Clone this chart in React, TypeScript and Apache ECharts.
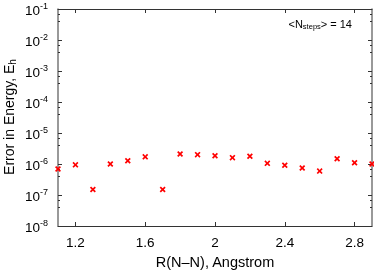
import React, { useEffect, useRef } from "react";
import * as echarts from "echarts";

const rValues = [1.1, 1.2, 1.3, 1.4, 1.5, 1.6, 1.7, 1.8, 1.9, 2.0, 2.1, 2.2, 2.3, 2.4, 2.5, 2.6, 2.7, 2.8, 2.9];
const errors = [6.9e-7, 9.4e-7, 1.5e-7, 1.0e-6, 1.28e-6, 1.7e-6, 1.5e-7, 2.1e-6, 2.0e-6, 1.85e-6, 1.6e-6, 1.77e-6, 1.05e-6, 0.91e-6, 0.74e-6, 0.59e-6, 1.48e-6, 1.1e-6, 1.0e-6];
const xTicks = [1.2, 1.6, 2.0, 2.4, 2.8];
const threshold = 1e-3;
const yMin = 1e-8;
const yMax = 1e-1;
const xMin = 1.1;
const xMax = 2.9;
const nSteps = 14;

const FONT = "Liberation Sans, Arial, sans-serif";
const crossPath = "path://M0,2 L2,0 L5,3 L8,0 L10,2 L7,5 L10,8 L8,10 L5,7 L2,10 L0,8 L3,5 Z";

export default function App() {
  const ref = useRef<HTMLDivElement>(null);
  useEffect(() => {
    if (!ref.current) return;
    const chart = echarts.init(ref.current, undefined, { renderer: "svg" });
    const tickStyle = { show: true, inside: true, length: 4, lineStyle: { color: "#333", width: 1 } };
    const minorStyle = { show: true, splitNumber: 3, length: 2, lineStyle: { color: "#333", width: 1 } };
    chart.setOption({
      animation: false,
      grid: { left: 58, right: 2, top: 9, bottom: 45, containLabel: false, outerBoundsMode: "none" },
      xAxis: [
        {
          type: "value",
          min: xMin,
          max: xMax,
          position: "bottom",
          axisLine: { show: true, lineStyle: { color: "#333", width: 1 } },
          axisTick: { ...tickStyle, customValues: xTicks },
          axisLabel: {
            customValues: xTicks,
            formatter: (v: number) => String(Math.round(v * 10) / 10),
            color: "#000",
            fontFamily: FONT,
            fontSize: 13.5,
            margin: 9,
          },
          splitLine: { show: false },
          name: "R(N\u2013N), Angstrom",
          nameLocation: "middle",
          nameGap: 28,
          nameTextStyle: { color: "#000", fontFamily: FONT, fontSize: 14.5 },
        },
        {
          type: "value",
          min: xMin,
          max: xMax,
          position: "top",
          axisLine: { show: true, lineStyle: { color: "#333", width: 1 } },
          axisTick: { ...tickStyle, customValues: xTicks },
          axisLabel: { show: false },
          splitLine: { show: false },
        },
      ],
      yAxis: [
        {
          type: "log",
          logBase: 10,
          min: yMin,
          max: yMax,
          interval: 1,
          position: "left",
          axisLine: { show: true, lineStyle: { color: "#777", width: 1.5 } },
          axisTick: tickStyle,
          minorTick: minorStyle,
          splitLine: { show: false },
          minorSplitLine: { show: false },
          axisLabel: {
            margin: 10,
            formatter: (v: number) => `{b|10}{s|${Math.round(Math.log10(v))}}`,
            rich: {
              b: { fontFamily: FONT, fontSize: 13.5, color: "#000", lineHeight: 16, verticalAlign: "bottom" },
              s: { fontFamily: FONT, fontSize: 9, color: "#000", lineHeight: 16, verticalAlign: "top", padding: [0, 0, 9, 0] },
            },
          },
        },
        {
          type: "log",
          logBase: 10,
          min: yMin,
          max: yMax,
          interval: 1,
          position: "right",
          axisLine: { show: true, lineStyle: { color: "#777", width: 1.5 } },
          axisTick: tickStyle,
          minorTick: minorStyle,
          splitLine: { show: false },
          minorSplitLine: { show: false },
          axisLabel: { show: false },
        },
      ],
      graphic: [
        {
          type: "text",
          x: 9,
          y: 117,
          rotation: Math.PI / 2,
          style: {
            text: "Error in Energy, E{sub|h}",
            fontFamily: FONT,
            fontSize: 14,
            fill: "#000",
            align: "center",
            verticalAlign: "middle",
            rich: { sub: { fontFamily: FONT, fontSize: 10, fill: "#000", padding: [6, 0, 0, 0] } },
          },
        },
        {
          type: "text",
          right: 22,
          top: 18,
          style: {
            text: "<N{sub|steps}> = " + nSteps,
            fontFamily: FONT,
            fontSize: 11,
            fill: "#000",
            rich: { sub: { fontFamily: FONT, fontSize: 7.5, fill: "#000", padding: [5, 0, 0, 0] } },
          },
        },
      ],
      series: [
        {
          type: "scatter",
          xAxisIndex: 0,
          yAxisIndex: 0,
          data: rValues.map((r, i) => [r, errors[i]]),
          symbol: crossPath,
          symbolSize: 6,
          itemStyle: { color: "#ff0000", opacity: 1 },
          clip: false,
          markLine: {
            silent: true,
            symbol: ["none", "none"],
            label: { show: false },
            lineStyle: { color: "#000", type: [3, 3], width: 1, opacity: 1 },
            data: [{ yAxis: threshold }],
          },
        },
      ],
    });
    return () => chart.dispose();
  }, []);
  return <div ref={ref} style={{ position: "fixed", left: 0, top: 0, width: 374, height: 271 }} />;
}
